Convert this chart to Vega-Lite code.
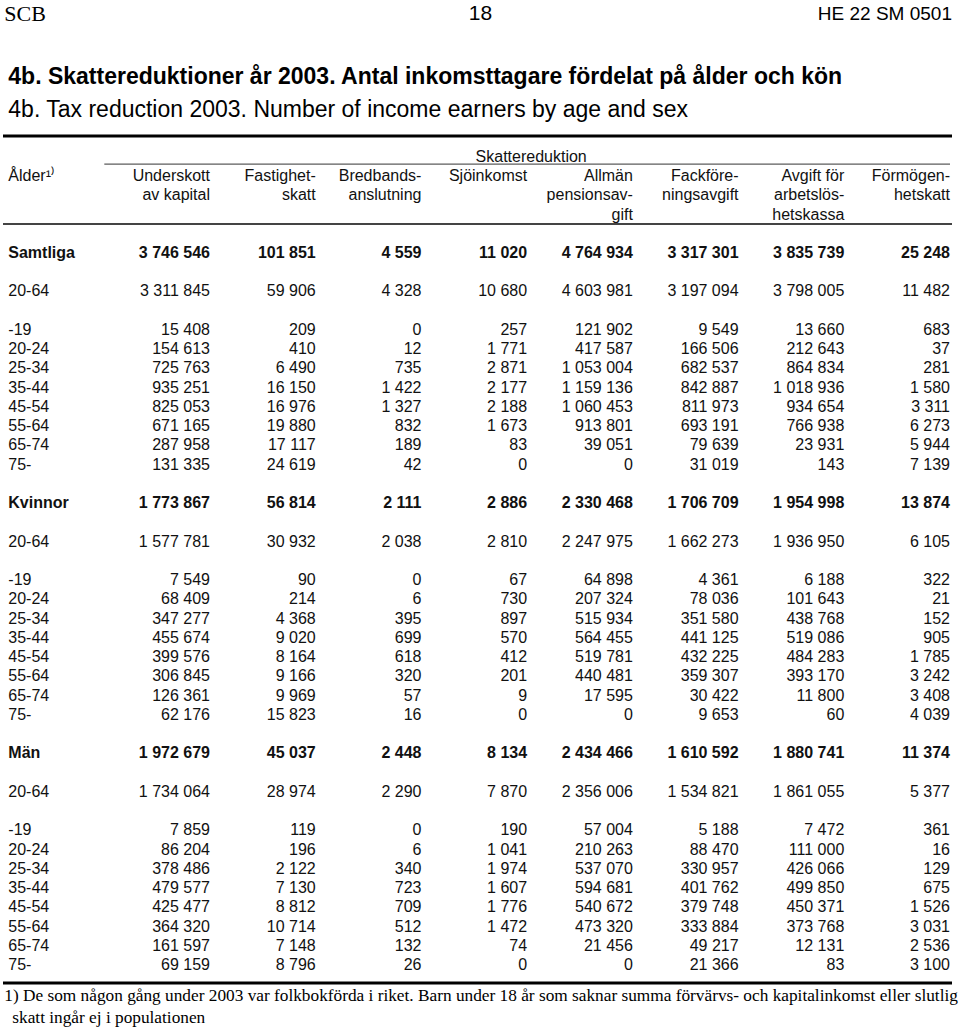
{
  "$schema": "https://vega.github.io/schema/vega-lite/v6.json",
  "width": 949,
  "height": 1028,
  "autosize": {"type": "none"},
  "padding": {"left": 3, "right": 8, "top": 0, "bottom": 0},
  "background": "white",
  "config": {
    "view": {"stroke": null},
    "locale": {"number": {"decimal": ",", "thousands": " ", "grouping": [3], "currency": ["", " kr"]}},
    "text": {"font": "Liberation Sans", "fontSize": 16, "color": "#111", "baseline": "middle"}
  },
  "datasets": {
    "table": [
      {"line": 0, "label": "Samtliga", "level": "total", "Underskott av kapital": 3746546, "Fastighetskatt": 101851, "Bredbandsanslutning": 4559, "Sjöinkomst": 11020, "Allmän pensionsavgift": 4764934, "Fackföreningsavgift": 3317301, "Avgift för arbetslöshetskassa": 3835739, "Förmögenhetskatt": 25248},
      {"line": 2, "label": "20-64", "level": "age", "Underskott av kapital": 3311845, "Fastighetskatt": 59906, "Bredbandsanslutning": 4328, "Sjöinkomst": 10680, "Allmän pensionsavgift": 4603981, "Fackföreningsavgift": 3197094, "Avgift för arbetslöshetskassa": 3798005, "Förmögenhetskatt": 11482},
      {"line": 4, "label": "-19", "level": "age", "Underskott av kapital": 15408, "Fastighetskatt": 209, "Bredbandsanslutning": 0, "Sjöinkomst": 257, "Allmän pensionsavgift": 121902, "Fackföreningsavgift": 9549, "Avgift för arbetslöshetskassa": 13660, "Förmögenhetskatt": 683},
      {"line": 5, "label": "20-24", "level": "age", "Underskott av kapital": 154613, "Fastighetskatt": 410, "Bredbandsanslutning": 12, "Sjöinkomst": 1771, "Allmän pensionsavgift": 417587, "Fackföreningsavgift": 166506, "Avgift för arbetslöshetskassa": 212643, "Förmögenhetskatt": 37},
      {"line": 6, "label": "25-34", "level": "age", "Underskott av kapital": 725763, "Fastighetskatt": 6490, "Bredbandsanslutning": 735, "Sjöinkomst": 2871, "Allmän pensionsavgift": 1053004, "Fackföreningsavgift": 682537, "Avgift för arbetslöshetskassa": 864834, "Förmögenhetskatt": 281},
      {"line": 7, "label": "35-44", "level": "age", "Underskott av kapital": 935251, "Fastighetskatt": 16150, "Bredbandsanslutning": 1422, "Sjöinkomst": 2177, "Allmän pensionsavgift": 1159136, "Fackföreningsavgift": 842887, "Avgift för arbetslöshetskassa": 1018936, "Förmögenhetskatt": 1580},
      {"line": 8, "label": "45-54", "level": "age", "Underskott av kapital": 825053, "Fastighetskatt": 16976, "Bredbandsanslutning": 1327, "Sjöinkomst": 2188, "Allmän pensionsavgift": 1060453, "Fackföreningsavgift": 811973, "Avgift för arbetslöshetskassa": 934654, "Förmögenhetskatt": 3311},
      {"line": 9, "label": "55-64", "level": "age", "Underskott av kapital": 671165, "Fastighetskatt": 19880, "Bredbandsanslutning": 832, "Sjöinkomst": 1673, "Allmän pensionsavgift": 913801, "Fackföreningsavgift": 693191, "Avgift för arbetslöshetskassa": 766938, "Förmögenhetskatt": 6273},
      {"line": 10, "label": "65-74", "level": "age", "Underskott av kapital": 287958, "Fastighetskatt": 17117, "Bredbandsanslutning": 189, "Sjöinkomst": 83, "Allmän pensionsavgift": 39051, "Fackföreningsavgift": 79639, "Avgift för arbetslöshetskassa": 23931, "Förmögenhetskatt": 5944},
      {"line": 11, "label": "75-", "level": "age", "Underskott av kapital": 131335, "Fastighetskatt": 24619, "Bredbandsanslutning": 42, "Sjöinkomst": 0, "Allmän pensionsavgift": 0, "Fackföreningsavgift": 31019, "Avgift för arbetslöshetskassa": 143, "Förmögenhetskatt": 7139},
      {"line": 13, "label": "Kvinnor", "level": "total", "Underskott av kapital": 1773867, "Fastighetskatt": 56814, "Bredbandsanslutning": 2111, "Sjöinkomst": 2886, "Allmän pensionsavgift": 2330468, "Fackföreningsavgift": 1706709, "Avgift för arbetslöshetskassa": 1954998, "Förmögenhetskatt": 13874},
      {"line": 15, "label": "20-64", "level": "age", "Underskott av kapital": 1577781, "Fastighetskatt": 30932, "Bredbandsanslutning": 2038, "Sjöinkomst": 2810, "Allmän pensionsavgift": 2247975, "Fackföreningsavgift": 1662273, "Avgift för arbetslöshetskassa": 1936950, "Förmögenhetskatt": 6105},
      {"line": 17, "label": "-19", "level": "age", "Underskott av kapital": 7549, "Fastighetskatt": 90, "Bredbandsanslutning": 0, "Sjöinkomst": 67, "Allmän pensionsavgift": 64898, "Fackföreningsavgift": 4361, "Avgift för arbetslöshetskassa": 6188, "Förmögenhetskatt": 322},
      {"line": 18, "label": "20-24", "level": "age", "Underskott av kapital": 68409, "Fastighetskatt": 214, "Bredbandsanslutning": 6, "Sjöinkomst": 730, "Allmän pensionsavgift": 207324, "Fackföreningsavgift": 78036, "Avgift för arbetslöshetskassa": 101643, "Förmögenhetskatt": 21},
      {"line": 19, "label": "25-34", "level": "age", "Underskott av kapital": 347277, "Fastighetskatt": 4368, "Bredbandsanslutning": 395, "Sjöinkomst": 897, "Allmän pensionsavgift": 515934, "Fackföreningsavgift": 351580, "Avgift för arbetslöshetskassa": 438768, "Förmögenhetskatt": 152},
      {"line": 20, "label": "35-44", "level": "age", "Underskott av kapital": 455674, "Fastighetskatt": 9020, "Bredbandsanslutning": 699, "Sjöinkomst": 570, "Allmän pensionsavgift": 564455, "Fackföreningsavgift": 441125, "Avgift för arbetslöshetskassa": 519086, "Förmögenhetskatt": 905},
      {"line": 21, "label": "45-54", "level": "age", "Underskott av kapital": 399576, "Fastighetskatt": 8164, "Bredbandsanslutning": 618, "Sjöinkomst": 412, "Allmän pensionsavgift": 519781, "Fackföreningsavgift": 432225, "Avgift för arbetslöshetskassa": 484283, "Förmögenhetskatt": 1785},
      {"line": 22, "label": "55-64", "level": "age", "Underskott av kapital": 306845, "Fastighetskatt": 9166, "Bredbandsanslutning": 320, "Sjöinkomst": 201, "Allmän pensionsavgift": 440481, "Fackföreningsavgift": 359307, "Avgift för arbetslöshetskassa": 393170, "Förmögenhetskatt": 3242},
      {"line": 23, "label": "65-74", "level": "age", "Underskott av kapital": 126361, "Fastighetskatt": 9969, "Bredbandsanslutning": 57, "Sjöinkomst": 9, "Allmän pensionsavgift": 17595, "Fackföreningsavgift": 30422, "Avgift för arbetslöshetskassa": 11800, "Förmögenhetskatt": 3408},
      {"line": 24, "label": "75-", "level": "age", "Underskott av kapital": 62176, "Fastighetskatt": 15823, "Bredbandsanslutning": 16, "Sjöinkomst": 0, "Allmän pensionsavgift": 0, "Fackföreningsavgift": 9653, "Avgift för arbetslöshetskassa": 60, "Förmögenhetskatt": 4039},
      {"line": 26, "label": "Män", "level": "total", "Underskott av kapital": 1972679, "Fastighetskatt": 45037, "Bredbandsanslutning": 2448, "Sjöinkomst": 8134, "Allmän pensionsavgift": 2434466, "Fackföreningsavgift": 1610592, "Avgift för arbetslöshetskassa": 1880741, "Förmögenhetskatt": 11374},
      {"line": 28, "label": "20-64", "level": "age", "Underskott av kapital": 1734064, "Fastighetskatt": 28974, "Bredbandsanslutning": 2290, "Sjöinkomst": 7870, "Allmän pensionsavgift": 2356006, "Fackföreningsavgift": 1534821, "Avgift för arbetslöshetskassa": 1861055, "Förmögenhetskatt": 5377},
      {"line": 30, "label": "-19", "level": "age", "Underskott av kapital": 7859, "Fastighetskatt": 119, "Bredbandsanslutning": 0, "Sjöinkomst": 190, "Allmän pensionsavgift": 57004, "Fackföreningsavgift": 5188, "Avgift för arbetslöshetskassa": 7472, "Förmögenhetskatt": 361},
      {"line": 31, "label": "20-24", "level": "age", "Underskott av kapital": 86204, "Fastighetskatt": 196, "Bredbandsanslutning": 6, "Sjöinkomst": 1041, "Allmän pensionsavgift": 210263, "Fackföreningsavgift": 88470, "Avgift för arbetslöshetskassa": 111000, "Förmögenhetskatt": 16},
      {"line": 32, "label": "25-34", "level": "age", "Underskott av kapital": 378486, "Fastighetskatt": 2122, "Bredbandsanslutning": 340, "Sjöinkomst": 1974, "Allmän pensionsavgift": 537070, "Fackföreningsavgift": 330957, "Avgift för arbetslöshetskassa": 426066, "Förmögenhetskatt": 129},
      {"line": 33, "label": "35-44", "level": "age", "Underskott av kapital": 479577, "Fastighetskatt": 7130, "Bredbandsanslutning": 723, "Sjöinkomst": 1607, "Allmän pensionsavgift": 594681, "Fackföreningsavgift": 401762, "Avgift för arbetslöshetskassa": 499850, "Förmögenhetskatt": 675},
      {"line": 34, "label": "45-54", "level": "age", "Underskott av kapital": 425477, "Fastighetskatt": 8812, "Bredbandsanslutning": 709, "Sjöinkomst": 1776, "Allmän pensionsavgift": 540672, "Fackföreningsavgift": 379748, "Avgift för arbetslöshetskassa": 450371, "Förmögenhetskatt": 1526},
      {"line": 35, "label": "55-64", "level": "age", "Underskott av kapital": 364320, "Fastighetskatt": 10714, "Bredbandsanslutning": 512, "Sjöinkomst": 1472, "Allmän pensionsavgift": 473320, "Fackföreningsavgift": 333884, "Avgift för arbetslöshetskassa": 373768, "Förmögenhetskatt": 3031},
      {"line": 36, "label": "65-74", "level": "age", "Underskott av kapital": 161597, "Fastighetskatt": 7148, "Bredbandsanslutning": 132, "Sjöinkomst": 74, "Allmän pensionsavgift": 21456, "Fackföreningsavgift": 49217, "Avgift för arbetslöshetskassa": 12131, "Förmögenhetskatt": 2536},
      {"line": 37, "label": "75-", "level": "age", "Underskott av kapital": 69159, "Fastighetskatt": 8796, "Bredbandsanslutning": 26, "Sjöinkomst": 0, "Allmän pensionsavgift": 0, "Fackföreningsavgift": 21366, "Avgift för arbetslöshetskassa": 83, "Förmögenhetskatt": 3100}
    ],
    "headers": [
      {"key": "Underskott av kapital", "line": -4, "text": "Underskott"},
      {"key": "Underskott av kapital", "line": -3, "text": "av kapital"},
      {"key": "Fastighetskatt", "line": -4, "text": "Fastighet-"},
      {"key": "Fastighetskatt", "line": -3, "text": "skatt"},
      {"key": "Bredbandsanslutning", "line": -4, "text": "Bredbands-"},
      {"key": "Bredbandsanslutning", "line": -3, "text": "anslutning"},
      {"key": "Sjöinkomst", "line": -4, "text": "Sjöinkomst"},
      {"key": "Allmän pensionsavgift", "line": -4, "text": "Allmän"},
      {"key": "Allmän pensionsavgift", "line": -3, "text": "pensionsav-"},
      {"key": "Allmän pensionsavgift", "line": -2, "text": "gift"},
      {"key": "Fackföreningsavgift", "line": -4, "text": "Fackföre-"},
      {"key": "Fackföreningsavgift", "line": -3, "text": "ningsavgift"},
      {"key": "Avgift för arbetslöshetskassa", "line": -4, "text": "Avgift för"},
      {"key": "Avgift för arbetslöshetskassa", "line": -3, "text": "arbetslös-"},
      {"key": "Avgift för arbetslöshetskassa", "line": -2, "text": "hetskassa"},
      {"key": "Förmögenhetskatt", "line": -4, "text": "Förmögen-"},
      {"key": "Förmögenhetskatt", "line": -3, "text": "hetskatt"}
    ]
  },
  "encoding": {
    "y": {"field": "line", "type": "quantitative", "axis": null, "scale": {"domain": [0, 37], "range": [253, 965], "zero": false, "nice": false}}
  },
  "layer": [
    {
      "data": {"values": [{"line": -6.08}, {"line": 37.94}]},
      "mark": {"type": "rule", "strokeWidth": 3, "color": "#000"},
      "encoding": {}
    },
    {
      "data": {"values": [{"line": -1.51}]},
      "mark": {"type": "rule", "strokeWidth": 2, "color": "#444"},
      "encoding": {}
    },
    {
      "data": {"values": [{"line": -4.62, "from": "Ålder", "to": "Förmögenhetskatt"}]},
      "mark": {"type": "rule", "strokeWidth": 1, "color": "#333"},
      "encoding": {
        "x": {"field": "from", "type": "nominal", "axis": null, "scale": {"type": "point", "domain": ["Ålder", "Underskott av kapital", "Fastighetskatt", "Bredbandsanslutning", "Sjöinkomst", "Allmän pensionsavgift", "Fackföreningsavgift", "Avgift för arbetslöshetskassa", "Förmögenhetskatt"], "range": [101.3, 947], "padding": 0}},
        "x2": {"field": "to"}
      }
    },
    {
      "data": {"name": "headers"},
      "mark": {"type": "text", "align": "right"},
      "encoding": {
        "x": {"field": "key", "type": "nominal", "axis": null},
        "text": {"field": "text"}
      }
    },
    {
      "data": {"values": [{"line": -4, "text": "Ålder¹⁾"}]},
      "mark": {"type": "text", "align": "left", "dx": -96},
      "encoding": {
        "x": {"datum": "Ålder", "type": "nominal", "axis": null},
        "text": {"field": "text"}
      }
    },
    {
      "data": {"values": [{"line": -5, "text": "Skattereduktion"}]},
      "mark": {"type": "text", "align": "center", "dx": 4},
      "encoding": {
        "x": {"datum": "Sjöinkomst", "type": "nominal", "axis": null},
        "text": {"field": "text"}
      }
    },
    {
      "data": {"name": "table"},
      "transform": [{"filter": "datum.level != 'total'"}],
      "mark": {"type": "text", "align": "left", "dx": -96},
      "encoding": {
        "x": {"datum": "Ålder", "type": "nominal", "axis": null},
        "text": {"field": "label"}
      }
    },
    {
      "data": {"name": "table"},
      "transform": [{"filter": "datum.level == 'total'"}],
      "mark": {"type": "text", "align": "left", "dx": -96, "fontWeight": "bold"},
      "encoding": {
        "x": {"datum": "Ålder", "type": "nominal", "axis": null},
        "text": {"field": "label"}
      }
    },
    {
      "data": {"name": "table"},
      "transform": [
        {"filter": "datum.level != 'total'"},
        {"fold": ["Underskott av kapital", "Fastighetskatt", "Bredbandsanslutning", "Sjöinkomst", "Allmän pensionsavgift", "Fackföreningsavgift", "Avgift för arbetslöshetskassa", "Förmögenhetskatt"]}
      ],
      "mark": {"type": "text", "align": "right"},
      "encoding": {
        "x": {"field": "key", "type": "nominal", "axis": null},
        "text": {"field": "value", "type": "quantitative", "format": ",d"}
      }
    },
    {
      "data": {"name": "table"},
      "transform": [
        {"filter": "datum.level == 'total'"},
        {"fold": ["Underskott av kapital", "Fastighetskatt", "Bredbandsanslutning", "Sjöinkomst", "Allmän pensionsavgift", "Fackföreningsavgift", "Avgift för arbetslöshetskassa", "Förmögenhetskatt"]}
      ],
      "mark": {"type": "text", "align": "right", "fontWeight": "bold"},
      "encoding": {
        "x": {"field": "key", "type": "nominal", "axis": null},
        "text": {"field": "value", "type": "quantitative", "format": ",d"}
      }
    },
    {
      "data": {"values": [{"line": -12.4, "text": "SCB"}]},
      "mark": {"type": "text", "align": "left", "dx": -100, "font": "Liberation Serif", "fontSize": 22, "color": "#000"},
      "encoding": {
        "x": {"datum": "Ålder", "type": "nominal", "axis": null},
        "text": {"field": "text"}
      }
    },
    {
      "data": {"values": [{"line": -12.4, "text": "18"}]},
      "mark": {"type": "text", "align": "center", "dx": 3, "fontSize": 21, "color": "#000"},
      "encoding": {
        "text": {"field": "text"}
      }
    },
    {
      "data": {"values": [{"line": -12.4, "text": "HE 22 SM 0501"}]},
      "mark": {"type": "text", "align": "right", "dx": 2, "fontSize": 19, "color": "#000"},
      "encoding": {
        "x": {"datum": "Förmögenhetskatt", "type": "nominal", "axis": null},
        "text": {"field": "text"}
      }
    },
    {
      "data": {"values": [{"line": -9.15, "text": "4b. Skattereduktioner år 2003. Antal inkomsttagare fördelat på ålder och kön"}]},
      "mark": {"type": "text", "align": "left", "dx": -96, "fontSize": 23, "fontWeight": "bold", "color": "#000"},
      "encoding": {
        "x": {"datum": "Ålder", "type": "nominal", "axis": null},
        "text": {"field": "text"}
      }
    },
    {
      "data": {"values": [{"line": -7.43, "text": "4b. Tax reduction 2003. Number of income earners by age and sex"}]},
      "mark": {"type": "text", "align": "left", "dx": -96, "fontSize": 23, "color": "#000"},
      "encoding": {
        "x": {"datum": "Ålder", "type": "nominal", "axis": null},
        "text": {"field": "text"}
      }
    },
    {
      "data": {"values": [{"line": 38.61, "text": "1) De som någon gång under 2003 var folkbokförda i riket. Barn under 18 år som saknar summa förvärvs- och kapitalinkomst eller slutlig"}]},
      "mark": {"type": "text", "align": "left", "dx": -100, "font": "Liberation Serif", "fontSize": 17.3, "color": "#000"},
      "encoding": {
        "x": {"datum": "Ålder", "type": "nominal", "axis": null},
        "text": {"field": "text"}
      }
    },
    {
      "data": {"values": [{"line": 39.75, "text": "skatt ingår ej i populationen"}]},
      "mark": {"type": "text", "align": "left", "dx": -92, "font": "Liberation Serif", "fontSize": 17.3, "color": "#000"},
      "encoding": {
        "x": {"datum": "Ålder", "type": "nominal", "axis": null},
        "text": {"field": "text"}
      }
    }
  ]
}
